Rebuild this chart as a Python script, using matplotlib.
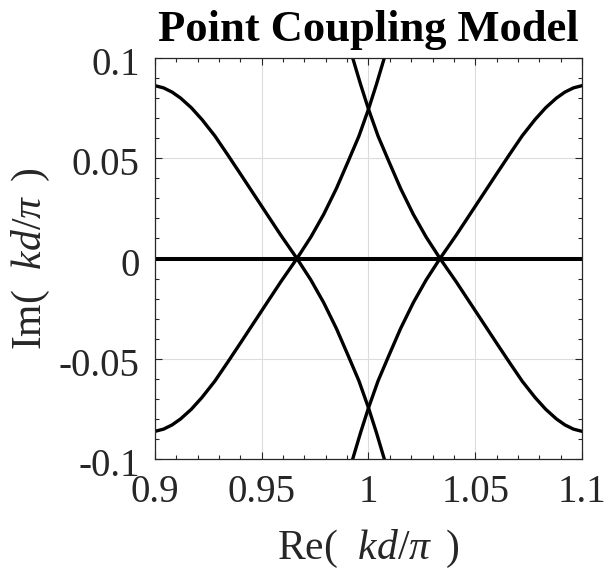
import matplotlib
matplotlib.use("Agg")
import matplotlib.pyplot as plt
from matplotlib.ticker import MultipleLocator, FixedLocator
from matplotlib.transforms import ScaledTranslation

plt.rcParams['font.family'] = ['Liberation Serif', 'DejaVu Serif']
plt.rcParams['mathtext.fontset'] = 'custom'
plt.rcParams['mathtext.rm'] = 'Liberation Serif'
plt.rcParams['mathtext.it'] = 'Liberation Serif:italic'

# ---- data ----
# branch 1: from upper-left, through Re=0.9665 on the real axis, down to the bottom near Re=1
re_b1 = [0.900, 0.904, 0.908, 0.912, 0.917, 0.922, 0.928, 0.934, 0.940, 0.946, 0.952, 0.959,
         0.9665, 0.973, 0.979, 0.985, 0.9905, 0.9955, 1.000, 1.0037, 1.0074]
im_b1 = [0.0862, 0.0851, 0.0830, 0.0800, 0.0752, 0.0693, 0.0612, 0.0518, 0.0422, 0.0325, 0.0228, 0.0115,
         0.0, -0.0107, -0.0220, -0.0350, -0.0485, -0.0610, -0.0745, -0.0868, -0.1]
# branch 2: from lower-left, through Re=0.9665, up to the top near Re=1
re_b2 = [0.900, 0.904, 0.908, 0.912, 0.917, 0.922, 0.928, 0.934, 0.940, 0.946, 0.952, 0.959,
         0.9665, 0.973, 0.979, 0.985, 0.9905, 0.9955, 1.000, 1.0037, 1.0074]
im_b2 = [-0.0862, -0.0851, -0.0830, -0.0800, -0.0752, -0.0693, -0.0612, -0.0518, -0.0422, -0.0325, -0.0228, -0.0115,
         0.0, 0.0107, 0.0220, 0.0350, 0.0485, 0.0610, 0.0745, 0.0868, 0.1]
# branch 3: from upper-right, through Re=1.0335, down to the bottom near Re=1
re_b3 = [1.100, 1.096, 1.092, 1.088, 1.083, 1.078, 1.072, 1.066, 1.060, 1.054, 1.048, 1.041,
         1.0335, 1.027, 1.021, 1.015, 1.0095, 1.0045, 1.000, 0.9963, 0.9926]
im_b3 = [0.0862, 0.0851, 0.0830, 0.0800, 0.0752, 0.0693, 0.0612, 0.0518, 0.0422, 0.0325, 0.0228, 0.0115,
         0.0, -0.0107, -0.0220, -0.0350, -0.0485, -0.0610, -0.0745, -0.0868, -0.1]
# branch 4: from lower-right, through Re=1.0335, up to the top near Re=1
re_b4 = [1.100, 1.096, 1.092, 1.088, 1.083, 1.078, 1.072, 1.066, 1.060, 1.054, 1.048, 1.041,
         1.0335, 1.027, 1.021, 1.015, 1.0095, 1.0045, 1.000, 0.9963, 0.9926]
im_b4 = [-0.0862, -0.0851, -0.0830, -0.0800, -0.0752, -0.0693, -0.0612, -0.0518, -0.0422, -0.0325, -0.0228, -0.0115,
         0.0, 0.0107, 0.0220, 0.0350, 0.0485, 0.0610, 0.0745, 0.0868, 0.1]
# real-axis branch
re_axis = [0.9, 1.1]
im_axis = [0.0, 0.0]

x_ticks = [0.9, 0.95, 1.0, 1.05, 1.1]
x_ticklabels = ['0.9', '0.95', '1', '1.05', '1.1']
y_ticks = [-0.1, -0.05, 0.0, 0.05, 0.1]
y_ticklabels = ['-0.1', '-0.05', '0', '0.05', '0.1']

title = 'Point Coupling Model'
xlabel = r'Re(  $kd/\pi\,$ )'
ylabel = r'Im(  $kd/\pi\,$ )'

# ---- figure ----
fig = plt.figure(figsize=(6.06, 5.74), dpi=100)
ax = fig.add_axes([155/606, 1 - 459/574, 427/606, 401/574])

ax.plot(re_axis, im_axis, color='black', lw=2.9, solid_capstyle='butt')
for rx, iy in [(re_b1, im_b1), (re_b2, im_b2), (re_b3, im_b3), (re_b4, im_b4)]:
    ax.plot(rx, iy, color='black', lw=2.4, solid_joinstyle='round')

ax.set_xlim(0.9, 1.1)
ax.set_ylim(-0.1, 0.1)
ax.xaxis.set_major_locator(FixedLocator(x_ticks))
ax.set_xticklabels(x_ticklabels)
ax.yaxis.set_major_locator(FixedLocator(y_ticks))
ax.set_yticklabels(y_ticklabels)
ax.xaxis.set_minor_locator(MultipleLocator(0.01))
ax.yaxis.set_minor_locator(MultipleLocator(0.01))

tc = '#262626'
ax.tick_params(which='both', direction='in', top=True, right=True, colors=tc,
               labelsize=28, width=0.8)
ax.tick_params(axis='x', which='major', length=5, pad=11)
ax.tick_params(axis='y', which='major', length=5, pad=11)
ax.tick_params(which='minor', length=3)
for s in ax.spines.values():
    s.set_color(tc)
    s.set_linewidth(0.9)

# MATLAB-like slight downward offset of y tick labels
off = ScaledTranslation(0, -3/100, fig.dpi_scale_trans)
for lbl in ax.get_yticklabels():
    lbl.set_transform(lbl.get_transform() + off)

ax.grid(True, which='major', color='#dcdcdc', lw=0.8)
ax.set_axisbelow(True)

ax.set_title(title, fontsize=32, fontweight='bold', color='black', pad=12)
ax.set_xlabel(xlabel, fontsize=30, color=tc, labelpad=12)
ax.set_ylabel(ylabel, fontsize=30, color=tc, labelpad=5)

fig.savefig('out.png', dpi=100)
